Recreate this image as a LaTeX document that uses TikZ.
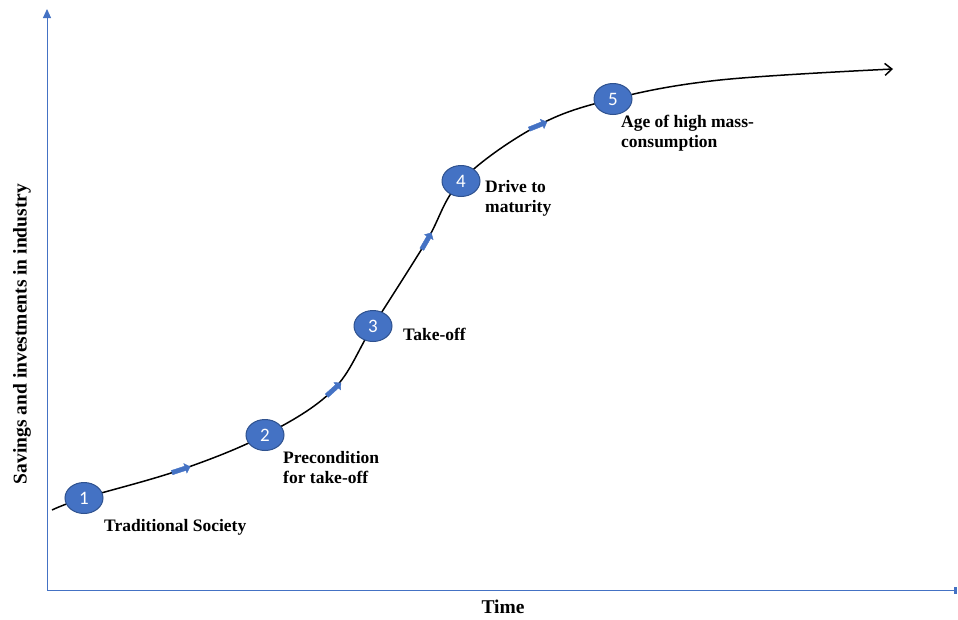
\documentclass[tikz,border=0pt]{standalone}
\usepackage{fontspec}
\setmainfont{Liberation Serif}
\newfontfamily\numfont{Carlito}
\usetikzlibrary{arrows.meta,shapes.arrows,shapes.geometric}
\definecolor{axisblue}{HTML}{4472C4}
\definecolor{stagefill}{HTML}{4472C4}
\definecolor{stageedge}{HTML}{2F528F}
\tikzset{
  stage/.style={ellipse,draw=stageedge,line width=1pt,fill=stagefill,minimum width=38pt,minimum height=31pt,inner sep=0pt,text=white,font=\numfont\fontsize{19}{19}\selectfont},
  lbl/.style={font=\bfseries\fontsize{17.5}{20}\selectfont,align=left,anchor=west,inner sep=0pt},
  axlbl/.style={font=\bfseries\fontsize{19.5}{20}\selectfont,inner sep=0pt},
  minarrow/.style={single arrow,fill=axisblue,draw=axisblue,minimum height=19pt,minimum width=10pt,single arrow head extend=2pt,inner sep=1.4pt},
  axis/.style={draw=axisblue,line width=1pt}
}
\begin{document}
\begin{tikzpicture}[x=1pt,y=-1pt]
\useasboundingbox (0,0) rectangle (958,619);
% axes
\coordinate (O) at (47,590);
\coordinate (Ytop) at (47,9);
\coordinate (Xend) at (957,590);
\draw[axis,-{Triangle[length=9pt,width=8pt]}] (O) -- (Ytop);
\draw[axis,-{Square[length=3pt,width=7pt]}] (O) -- (Xend);
% curve points
\coordinate (s) at (52,510);
\coordinate (p1) at (84,498);
\coordinate (a1) at (180,470);
\coordinate (p2) at (265,435);
\coordinate (a2) at (333,390);
\coordinate (p3) at (373,326);
\coordinate (a3) at (426,242);
\coordinate (p4) at (461,181);
\coordinate (a4) at (537,126);
\coordinate (p5) at (613,99);
\coordinate (q) at (720,80);
\coordinate (e) at (893,69);
\draw[line width=1.5pt,-{Straight Barb[length=7pt,width=12pt]}] plot[smooth,tension=0.6] coordinates {(s) (p1) (a1) (p2) (a2) (p3) (a3) (p4) (a4) (p5) (q) (e)};
% small arrows
\node[minarrow,rotate=18] (m1) at (a1) {};
\node[minarrow,rotate=42] (m2) at (a2) {};
\node[minarrow,rotate=60] (m3) at (a3) {};
\node[minarrow,rotate=22] (m4) at (a4) {};
% stages
\node[stage] (n1) at (p1) {1};
\node[stage] (n2) at (p2) {2};
\node[stage] (n3) at (p3) {3};
\node[stage] (n4) at (p4) {4};
\node[stage] (n5) at (p5) {5};
% labels
\node[lbl] (l1) at (104,527) {Traditional Society};
\node[lbl] (l2) at (283,468) {Precondition\\for take-off};
\node[lbl] (l3) at (403,334) {Take-off};
\node[lbl] (l4) at (485,198) {Drive to\\maturity};
\node[lbl] (l5) at (621,133) {Age of high mass-\\consumption};
\node[axlbl] (tx) at (503,607) {Time};
\node[axlbl,rotate=90] (ty) at (22,334) {Savings and investments in industry};
\end{tikzpicture}
\end{document}
